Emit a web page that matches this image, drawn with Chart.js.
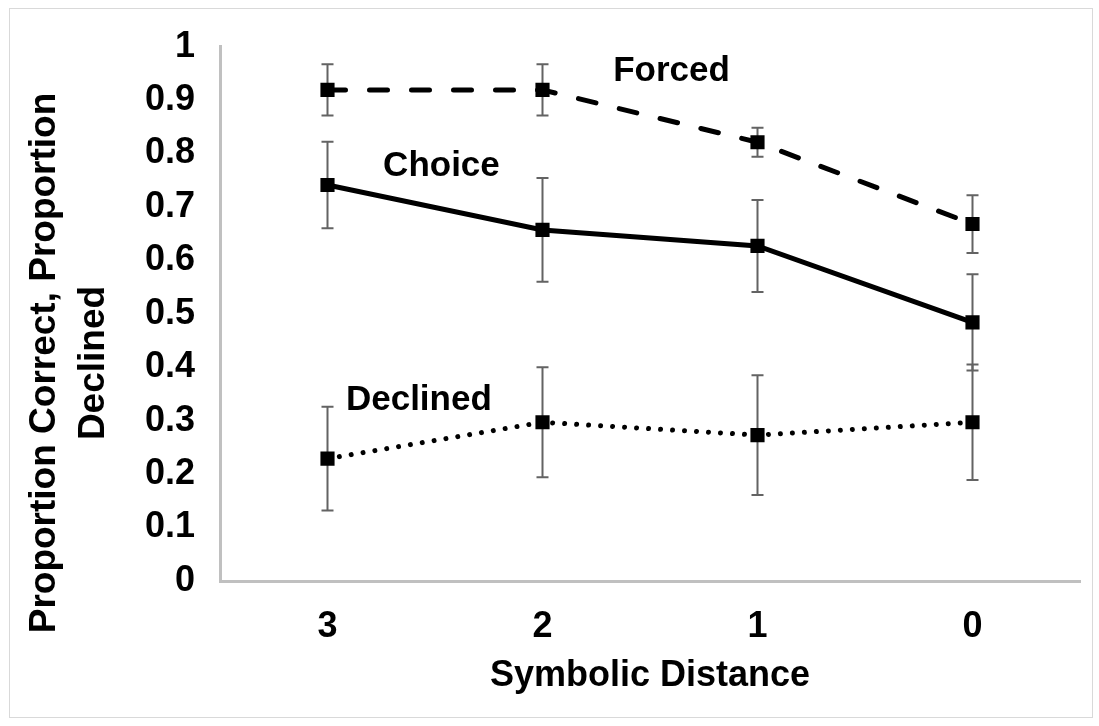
<!DOCTYPE html>
<html>
<head>
<meta charset="utf-8">
<title>Symbolic Distance</title>
<script src="https://cdn.jsdelivr.net/npm/chart.js@4/dist/chart.umd.min.js"></script>
<style>
  html, body { margin: 0; padding: 0; background: #fff; }
  canvas { display: block; }
</style>
</head>
<body>
<canvas id="chart" width="1099" height="726"></canvas>
<script>
// data
const distances = ["3", "2", "1", "0"];
const forced = [0.919, 0.919, 0.821, 0.668];
const forcedErr = [0.048, 0.048, 0.027, 0.054];
const choice = [0.741, 0.657, 0.627, 0.484];
const choiceErr = [0.081, 0.097, 0.086, 0.090];
const declined = [0.229, 0.297, 0.273, 0.297];
const declinedErr = [0.097, 0.103, 0.112, 0.108];
const seriesNames = ["Forced", "Choice", "Declined"];
const yTitleLines = ["Proportion Correct, Proportion", "Declined"];
const xTitle = "Symbolic Distance";

// where the in-plot series names sit (category index, value)
const nameSpots = [[1.60, 0.953], [0.53, 0.776], [0.425, 0.338]];

const FONT = "'Liberation Sans', Arial, sans-serif";

const errorBars = {
  id: "errorBars",
  beforeDatasetsDraw(chart) {
    const ctx = chart.ctx;
    const y = chart.scales.y;
    const errs = [forcedErr, choiceErr, declinedErr];
    ctx.save();
    ctx.strokeStyle = "#636363";
    ctx.lineWidth = 2;
    chart.data.datasets.forEach((ds, i) => {
      const meta = chart.getDatasetMeta(i);
      meta.data.forEach((pt, j) => {
        const top = y.getPixelForValue(ds.data[j] + errs[i][j]);
        const bot = y.getPixelForValue(ds.data[j] - errs[i][j]);
        ctx.beginPath();
        ctx.moveTo(pt.x, top); ctx.lineTo(pt.x, bot);
        ctx.moveTo(pt.x - 6, top); ctx.lineTo(pt.x + 6, top);
        ctx.moveTo(pt.x - 6, bot); ctx.lineTo(pt.x + 6, bot);
        ctx.stroke();
      });
    });
    ctx.restore();
  }
};

const decorations = {
  id: "decorations",
  beforeDraw(chart) {
    const ctx = chart.ctx;
    ctx.save();
    ctx.strokeStyle = "#d9d9d9";
    ctx.lineWidth = 1;
    ctx.strokeRect(9.5, 8.5, 1083, 709);
    ctx.restore();
  },
  afterDraw(chart) {
    const ctx = chart.ctx;
    const x = chart.scales.x, y = chart.scales.y;
    ctx.save();
    ctx.fillStyle = "#000";
    ctx.textAlign = "center";
    ctx.textBaseline = "middle";
    ctx.font = "bold 35px " + FONT;
    seriesNames.forEach((name, i) => {
      ctx.fillText(name, x.getPixelForValue(nameSpots[i][0]), y.getPixelForValue(nameSpots[i][1]));
    });
    // y axis title, centred on the whole figure like the original
    ctx.font = "bold 37px " + FONT;
    ctx.translate(45, chart.height / 2);
    ctx.rotate(-Math.PI / 2);
    ctx.fillText(yTitleLines[0], 0, 0);
    ctx.fillText(yTitleLines[1], 0, 49);
    ctx.restore();
  }
};

new Chart(document.getElementById("chart"), {
  type: "line",
  data: {
    labels: distances,
    datasets: [
      {
        label: seriesNames[0], data: forced,
        borderColor: "#000", borderWidth: 5, borderDash: [18, 24], borderCapStyle: "round",
        pointStyle: "rect", pointRadius: 10, pointBackgroundColor: "#000", pointBorderWidth: 0
      },
      {
        label: seriesNames[1], data: choice,
        borderColor: "#000", borderWidth: 5,
        pointStyle: "rect", pointRadius: 10, pointBackgroundColor: "#000", pointBorderWidth: 0
      },
      {
        label: seriesNames[2], data: declined,
        borderColor: "#000", borderWidth: 5, borderDash: [0.01, 12], borderCapStyle: "round",
        pointStyle: "rect", pointRadius: 10, pointBackgroundColor: "#000", pointBorderWidth: 0
      }
    ]
  },
  options: {
    responsive: false,
    animation: false,
    events: [],
    layout: { padding: { top: 42, right: 19, bottom: 0, left: 0 } },
    plugins: { legend: { display: false }, tooltip: { enabled: false } },
    elements: { line: { tension: 0 } },
    scales: {
      x: {
        offset: true,
        grid: { display: false, drawTicks: false },
        border: { color: "#c0c0c0", width: 3 },
        ticks: { color: "#000", font: { family: FONT, size: 36, weight: "bold" }, padding: 24 },
        title: { display: true, text: xTitle, color: "#000", font: { family: FONT, size: 36, weight: "bold" }, padding: { top: 0, bottom: 28 } },
        afterFit(scale) { scale.height = 145; }
      },
      y: {
        min: 0, max: 1,
        grid: { display: false, drawTicks: false },
        border: { color: "#c0c0c0", width: 3 },
        ticks: {
          stepSize: 0.1, color: "#000", padding: 25,
          font: { family: FONT, size: 36, weight: "bold" },
          callback: v => String(Math.round(v * 10) / 10)
        },
        afterFit(scale) { scale.width = 220; }
      }
    }
  },
  plugins: [errorBars, decorations]
});
</script>
</body>
</html>
